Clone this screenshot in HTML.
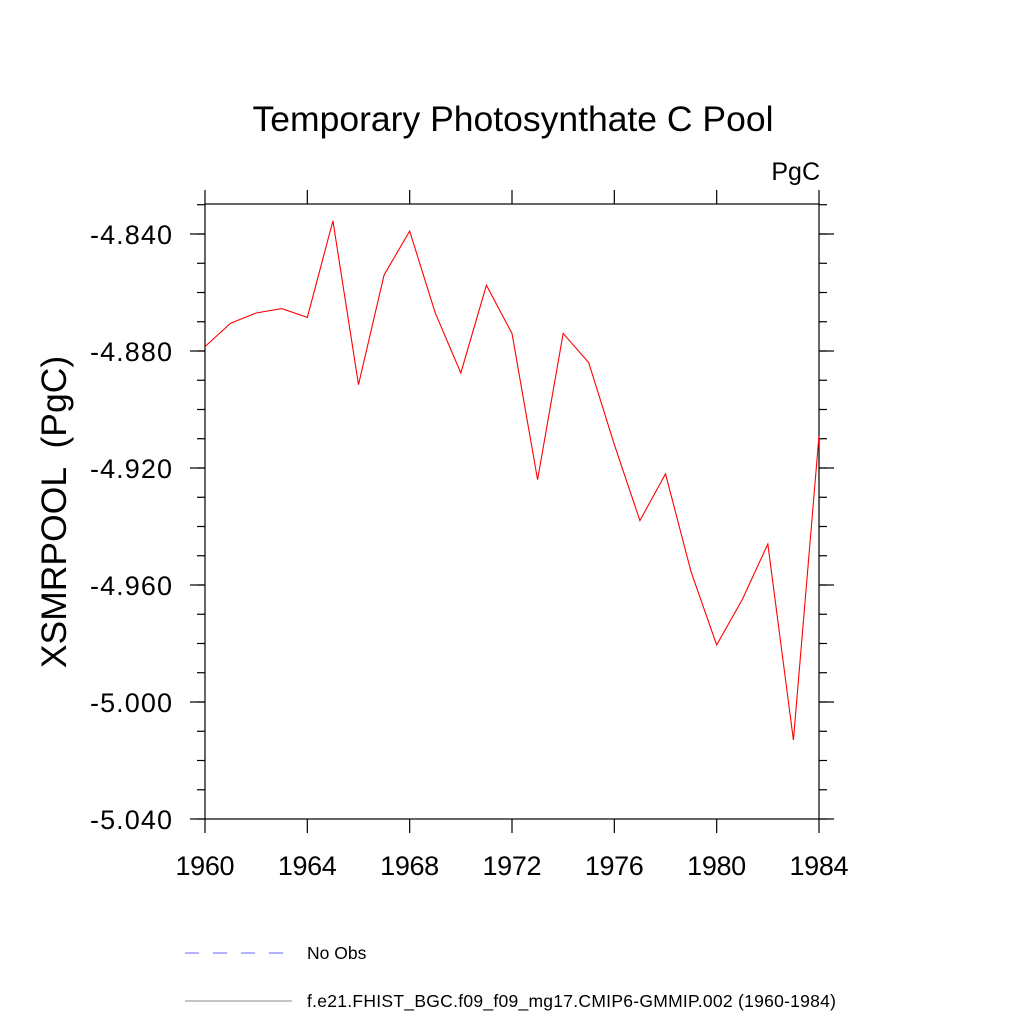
<!DOCTYPE html>
<html><head><meta charset="utf-8"><style>
html,body{margin:0;padding:0;background:#fff;}
svg text{font-family:"Liberation Sans",sans-serif;white-space:pre;}
</style></head><body>
<svg id="chart" width="1024" height="1024" xmlns="http://www.w3.org/2000/svg">
<text x="513" y="131" font-size="35.5" text-anchor="middle">Temporary Photosynthate C Pool</text>
<text x="820" y="180" font-size="25" text-anchor="end">PgC</text>
<text transform="translate(66,512) rotate(-90)" font-size="35.5" text-anchor="middle" xml:space="preserve">XSMRPOOL  (PgC)</text>
<rect x="205" y="204" width="614" height="615" fill="none" stroke="#000" stroke-width="1.2"/>
<g id="axes"></g>
<polyline id="series" fill="none" stroke="#ff0000" stroke-width="1.1"/>
<line x1="185" y1="953" x2="292" y2="953" stroke="#6666ff" stroke-width="1" stroke-dasharray="14,14"/>
<text x="307" y="959" font-size="17.5">No Obs</text>
<line x1="185" y1="1001" x2="292" y2="1001" stroke="#888" stroke-width="1"/>
<text x="307" y="1007" font-size="17.5" textLength="529">f.e21.FHIST_BGC.f09_f09_mg17.CMIP6-GMMIP.002 (1960-1984)</text>
</svg>
<script>
const years=[1960,1961,1962,1963,1964,1965,1966,1967,1968,1969,1970,1971,1972,1973,1974,1975,1976,1977,1978,1979,1980,1981,1982,1983,1984];
const values=[-4.8785,-4.8705,-4.8670,-4.8655,-4.8685,-4.8355,-4.8915,-4.8540,-4.8390,-4.8670,-4.8875,-4.8575,-4.8740,-4.9240,-4.8740,-4.8840,-4.9120,-4.9380,-4.9220,-4.9555,-4.9805,-4.9650,-4.9460,-5.0130,-4.9090];
const xTicks=[1960,1964,1968,1972,1976,1980,1984];
const yTicks=[-4.84,-4.88,-4.92,-4.96,-5.0,-5.04];
const yTickLabels=["-4.840","-4.880","-4.920","-4.960","-5.000","-5.040"];
const X0=205,X1=819,Y0=819,Y1=234;
function xs(v){return X0+(v-1960)/(1984-1960)*(X1-X0);}
function ys(v){return Y0+(v-(-5.04))/(-4.84-(-5.04))*(Y1-Y0);}
const NS="http://www.w3.org/2000/svg";
const g=document.getElementById('axes');
function ln(x1,y1,x2,y2,name){const l=document.createElementNS(NS,'line');l.setAttribute('x1',x1);l.setAttribute('y1',y1);l.setAttribute('x2',x2);l.setAttribute('y2',y2);l.setAttribute('stroke','#000');l.setAttribute('stroke-width','1.2');


g.appendChild(l);}
function tx(x,y,s,anchor,name,tl){const t=document.createElementNS(NS,'text');t.setAttribute('x',x);t.setAttribute('y',y);t.setAttribute('font-size','27');t.setAttribute('text-anchor',anchor);if(tl)t.setAttribute('textLength',tl);t.textContent=s;


g.appendChild(t);}
xTicks.forEach(v=>{const x=xs(v);ln(x,Y0,x,Y0+14,'x-tick');ln(x,204,x,190,'x-tick-top');tx(x,Y0+56,String(v),'middle','x-tick-label',59);});
yTicks.forEach((v,i)=>{const y=ys(v);ln(X0,y,X0-15,y,'y-tick');ln(X1,y,X1+15,y,'y-tick-right');tx(X0-33,y+10,yTickLabels[i],'end','y-tick-label',82);});
for(let v=-5.04;v<=-4.829;v+=0.01){const y=ys(v);if(y<204)break;ln(X0,y,X0-8,y,'y-minor-tick');ln(X1,y,X1+8,y,'y-minor-tick-right');}
document.getElementById('series').setAttribute('points',years.map((yr,i)=>xs(yr)+','+ys(values[i])).join(' '));
</script>
</body></html>
